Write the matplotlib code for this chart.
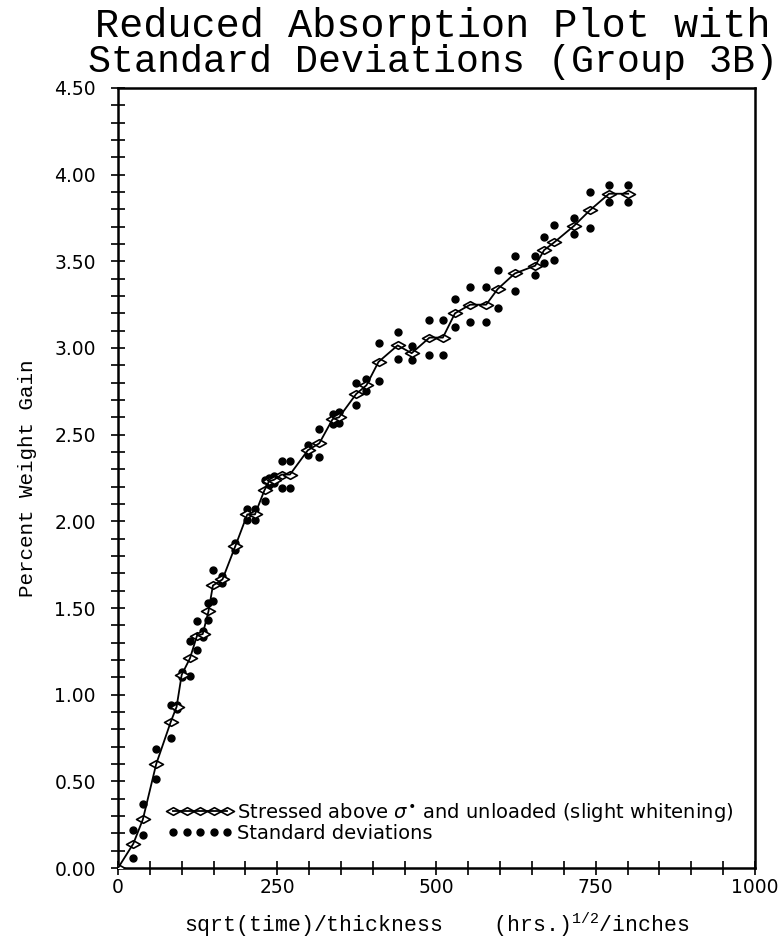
import matplotlib
matplotlib.use("Agg")
import matplotlib.pyplot as plt
from matplotlib.path import Path
from matplotlib.ticker import MultipleLocator, FormatStrFormatter
from matplotlib.legend_handler import HandlerTuple

# sqrt(time)/thickness, mean weight gain (%), standard deviation
x_vals = [0, 24, 39, 60, 83, 92, 100, 113, 124, 133, 142, 149, 164, 184, 203, 215,
          230, 237, 245, 257, 270, 298, 316, 337, 347, 374, 390, 409, 439, 461,
          489, 510, 529, 553, 578, 596, 623, 655, 669, 685, 716, 741, 771, 801]
mean_gain = [0.00, 0.14, 0.28, 0.60, 0.845, 0.93, 1.115, 1.21, 1.34, 1.35, 1.48, 1.63,
             1.665, 1.855, 2.04, 2.04, 2.18, 2.23, 2.24, 2.27, 2.27, 2.41, 2.45, 2.59,
             2.60, 2.735, 2.785, 2.92, 3.015, 2.97, 3.06, 3.06, 3.20, 3.25, 3.25, 3.34,
             3.43, 3.475, 3.565, 3.61, 3.705, 3.795, 3.89, 3.89]
std_dev = [0.00, 0.08, 0.09, 0.085, 0.095, 0.01, 0.015, 0.10, 0.085, 0.02, 0.05, 0.09,
           0.02, 0.02, 0.03, 0.03, 0.06, 0.02, 0.02, 0.08, 0.08, 0.03, 0.08, 0.03,
           0.03, 0.065, 0.035, 0.11, 0.08, 0.04, 0.10, 0.10, 0.08, 0.10, 0.10, 0.11,
           0.10, 0.055, 0.075, 0.10, 0.045, 0.105, 0.05, 0.05]

upper = [m + s for m, s in zip(mean_gain, std_dev)]
lower = [m - s for m, s in zip(mean_gain, std_dev)]

plt.rcParams['mathtext.default'] = 'regular'

# flattened diamond marker
wide_diamond = Path([(-1, 0), (0, 0.55), (1, 0), (0, -0.55), (-1, 0)],
                    [Path.MOVETO, Path.LINETO, Path.LINETO, Path.LINETO, Path.CLOSEPOLY])

fig = plt.figure(figsize=(7.83, 9.43), dpi=100)
ax = fig.add_axes([0.1507, 0.0795, 0.8135, 0.8272])

sd_pts, = ax.plot(x_vals[1:] + x_vals[1:], upper[1:] + lower[1:], 'o', color='black',
                  ms=5, ls='none', zorder=2)
marks, = ax.plot(x_vals, mean_gain, ls='none', marker=wide_diamond, ms=10,
                 mfc='white', mec='black', mew=1.2, zorder=3)
line, = ax.plot(x_vals, mean_gain, '-', color='black', lw=1.3, zorder=4)

ax.set_xlim(0, 1000)
ax.set_ylim(0, 4.5)
ax.xaxis.set_major_locator(MultipleLocator(250))
ax.xaxis.set_minor_locator(MultipleLocator(50))
ax.yaxis.set_major_locator(MultipleLocator(0.5))
ax.yaxis.set_minor_locator(MultipleLocator(0.1))
ax.yaxis.set_major_formatter(FormatStrFormatter('%.2f'))

ax.tick_params(which='both', direction='inout', length=10, width=1.2,
               labelsize=13.5, top=False, right=False)
ax.tick_params(axis='y', which='both', pad=11)
ax.tick_params(axis='x', which='both', pad=2)
for sp in ax.spines.values():
    sp.set_linewidth(1.8)

mono = 'Liberation Mono'
fig.text(0.553, 0.993, "Reduced Absorption Plot with",
         ha='center', va='top', fontsize=29, family=mono)
fig.text(0.553, 0.953, "Standard Deviations (Group 3B)",
         ha='center', va='top', fontsize=27.5, family=mono)
ax.set_ylabel("Percent Weight Gain", fontsize=15, family=mono, labelpad=12)
ax.set_xlabel("sqrt(time)/thickness    (hrs.)$^{1/2}$/inches", fontsize=15.5,
              family=mono, labelpad=10)

ax.legend([(marks, line), sd_pts],
          [r"Stressed above $\mathit{\sigma}^{\bullet}$ and unloaded (slight whitening)",
           "Standard deviations"],
          handler_map={tuple: HandlerTuple(ndivide=1, pad=0)},
          numpoints=5, loc='lower left', bbox_to_anchor=(0.065, 0.022),
          frameon=False, fontsize=14, handlelength=3.4, handletextpad=0.2,
          labelspacing=0, borderaxespad=0)

fig.savefig("out.png", dpi=100)
